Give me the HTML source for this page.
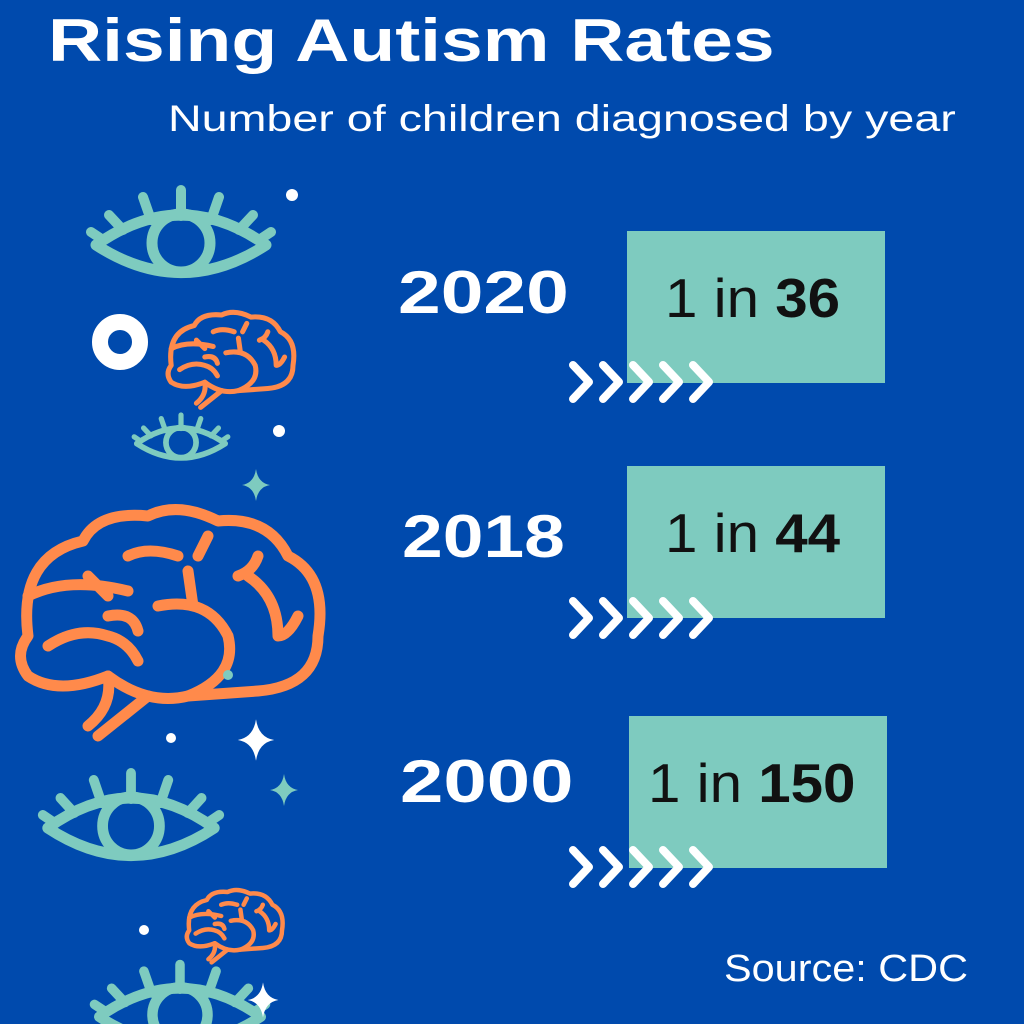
<!DOCTYPE html>
<html><head><meta charset="utf-8"><style>
body{margin:0;width:1024px;height:1024px;background:#004aad;overflow:hidden;position:relative;font-family:"Liberation Sans",sans-serif}
.t{position:absolute;color:#fff;white-space:nowrap;transform-origin:0 0}
.box{position:absolute;width:258px;height:152px;background:#7ecbbf}
.box span{position:absolute;left:0;top:35px;font-size:55px;line-height:64px;color:#111;white-space:nowrap;transform-origin:0 0;transform:scaleX(1.06)}
</style></head><body>
<div class="t" style="left:48px;top:6px;font-size:60px;font-weight:bold;transform:scaleX(1.25)">Rising Autism Rates</div>
<div class="t" style="left:168px;top:98px;font-size:37px;transform:scaleX(1.26)">Number of children diagnosed by year</div>
<div class="t" style="left:398px;top:258px;font-size:60px;font-weight:bold;transform:scaleX(1.28)">2020</div>
<div class="t" style="left:402px;top:502px;font-size:60px;font-weight:bold;transform:scaleX(1.22)">2018</div>
<div class="t" style="left:400px;top:747px;font-size:60px;font-weight:bold;transform:scaleX(1.3)">2000</div>
<div class="box" style="left:627px;top:231px"><span style="left:38px">1 in <b>36</b></span></div>
<div class="box" style="left:627px;top:466px"><span style="left:38px">1 in <b>44</b></span></div>
<div class="box" style="left:629px;top:716px"><span style="left:19px">1 in <b>150</b></span></div>
<div class="t" style="left:724px;top:948px;font-size:38px;transform:scaleX(1.09)">Source: CDC</div>
<svg width="1024" height="1024" style="position:absolute;left:0;top:0">
<defs>
<g id="chev" fill="none" stroke="#fff" stroke-width="8" stroke-linecap="round" stroke-linejoin="round">
<path d="M573 365l16 17-16 17M603 365l16 17-16 17M633 365l16 17-16 17M663 365l16 17-16 17M693 365l16 17-16 17"/></g>
<g id="eye" fill="none" stroke="#7ecbbf" stroke-linecap="round" stroke-linejoin="round">
<path d="M-85 5Q0 -55 85 5Q0 60 -85 5Z" stroke-width="11"/>
<circle cx="0" cy="3" r="29" stroke-width="11"/>
<path d="M0-24V-50M-30-20L-38-43M30-20L38-43M-58-10L-72-25M58-10L72-25M-78 0L-90-8M78 0L90-8" stroke-width="10"/>
</g>
<g id="brain" fill="none" stroke="#ff8a4b" stroke-linecap="round" stroke-linejoin="round">
<path d="M-140 20Q-150 -60 -85 -75Q-70 -105 -20 -100Q10 -115 50 -95Q100 -100 120 -60Q160 -40 150 20Q150 70 90 75L20 80Q-20 90 -60 60Q-110 80 -140 60Q-155 40 -140 20Z"/>
<path d="M-60 60Q-55 90 -80 110M-20 80L-70 120M-140 -20Q-100 -40 -40 -25M-80 -40L-60 -20M-10 -10Q40 -20 60 20Q70 60 20 80M20 -45L25 -10M-40 -60Q-20 -70 10 -60M40 -80L30 -60M80 -40Q110 -20 110 20M90 -60Q85 -45 70 -40M130 0Q120 20 110 20M-120 30Q-90 10 -60 20Q-40 25 -30 45M-60 0Q-35 -5 -30 15"/>
</g>
<g id="star"><path d="M0-16Q2-2 14 0Q2 2 0 16Q-2 2 -14 0Q-2 -2 0-16Z"/></g>
</defs>
<use href="#chev"/><use href="#chev" y="236"/><use href="#chev" y="485"/>
<use href="#eye" transform="translate(181,240)"/>
<use href="#eye" transform="translate(181,441) scale(0.52)"/>
<use href="#eye" transform="translate(131,823) scale(0.98,1)"/>
<use href="#eye" transform="translate(180,1012) scale(0.95)"/>
<use href="#brain" transform="translate(168,616)" stroke-width="11"/>
<use href="#brain" transform="translate(230,357) scale(0.42)" stroke-width="12"/>
<use href="#brain" transform="translate(234,924) scale(0.32)" stroke-width="14"/>
<circle cx="120" cy="342" r="20" fill="none" stroke="#fff" stroke-width="16"/>
<circle cx="292" cy="195" r="6" fill="#fff"/>
<circle cx="279" cy="431" r="6" fill="#fff"/>
<circle cx="171" cy="738" r="5" fill="#fff"/>
<circle cx="228" cy="675" r="5" fill="#7ecbbf"/>
<circle cx="144" cy="930" r="5" fill="#fff"/>
<use href="#star" transform="translate(256,485)" fill="#7ecbbf"/>
<use href="#star" transform="translate(256,740) scale(1.3)" fill="#fff"/>
<use href="#star" transform="translate(284,790)" fill="#7ecbbf"/>
<use href="#star" transform="translate(263,1000) scale(1.1)" fill="#fff"/>
</svg>
</body></html>
